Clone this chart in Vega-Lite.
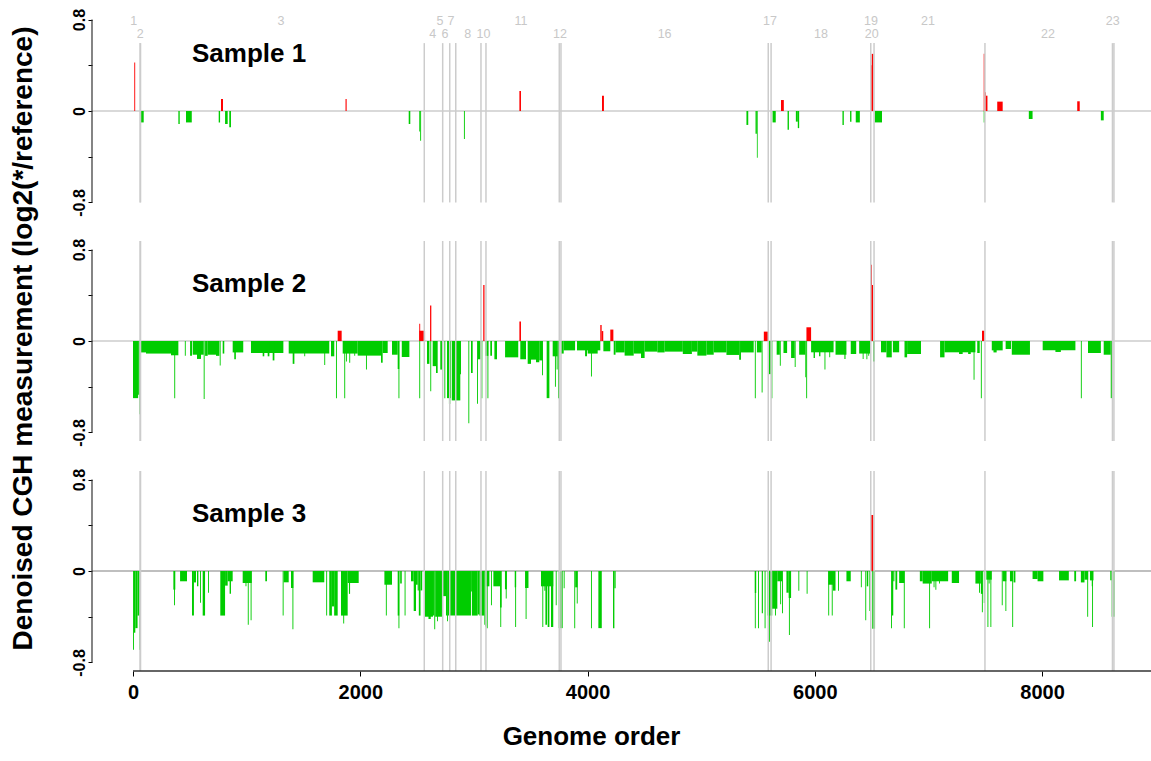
{
  "$schema": "https://vega.github.io/schema/vega-lite/v6.json",
  "padding": {"left": 8, "top": 8, "right": 0, "bottom": 5},
  "spacing": 30,
  "bounds": "flush",
  "config": {
    "view": {"stroke": null},
    "font": "Liberation Sans",
    "axis": {"grid": false, "domain": false, "tickColor": "#000", "labelColor": "#000", "titleColor": "#000", "labelFontWeight": "bold", "titleFontWeight": "bold", "labelFont": "Liberation Sans", "titleFont": "Liberation Sans", "labelOverlap": false, "labelBound": false}
  },
  "datasets": {
    "p1": [
      {"x":11,"x2":19,"v":0.425},{"x":64,"x2":94,"v":-0.10},{"x":399,"x2":411,"v":-0.114},{"x":466,"x2":517,"v":-0.10},
      {"x":754,"x2":766,"v":-0.10},{"x":774,"x2":792,"v":0.105},{"x":810,"x2":833,"v":-0.114},{"x":847,"x2":862,"v":-0.143},
      {"x":1870,"x2":1880,"v":0.105},{"x":2426,"x2":2440,"v":-0.114},{"x":2519,"x2":2527,"v":-0.18},{"x":2527,"x2":2535,"v":-0.26},
      {"x":2912,"x2":2920,"v":-0.245},{"x":3400,"x2":3414,"v":0.175},{"x":4127,"x2":4144,"v":0.134},{"x":5398,"x2":5414,"v":-0.122},
      {"x":5478,"x2":5490,"v":-0.2},{"x":5490,"x2":5497,"v":-0.41},{"x":5628,"x2":5656,"v":-0.10},{"x":5702,"x2":5727,"v":0.096},
      {"x":5760,"x2":5772,"v":-0.163},{"x":5833,"x2":5850,"v":-0.093},{"x":5850,"x2":5862,"v":-0.15},{"x":6243,"x2":6255,"v":-0.122},
      {"x":6310,"x2":6322,"v":-0.093},{"x":6360,"x2":6396,"v":-0.10},{"x":6492,"x2":6500,"v":0.40},{"x":6500,"x2":6515,"v":0.50},
      {"x":6527,"x2":6591,"v":-0.10},{"x":7486,"x2":7494,"v":0.5},{"x":7486,"x2":7494,"v":-0.1},{"x":7497,"x2":7505,"v":0.163},{"x":7505,"x2":7519,"v":0.134},
      {"x":7605,"x2":7653,"v":0.082},{"x":7883,"x2":7916,"v":-0.07},{"x":8309,"x2":8331,"v":0.085},{"x":8517,"x2":8542,"v":-0.082}
    ],
    "p2": [
      {"x":0,"x2":45,"v":-0.50},{"x":45,"x2":56,"v":-0.47},{"x":56,"x2":64,"v":-0.64},
      {"x":70,"x2":114,"v":-0.10},{"x":114,"x2":334,"v":-0.11},{"x":334,"x2":399,"v":-0.125},{"x":363,"x2":371,"v":-0.50},
      {"x":456,"x2":464,"v":-0.128},{"x":502,"x2":519,"v":-0.128},
      {"x":525,"x2":563,"v":-0.12},{"x":563,"x2":598,"v":-0.157},{"x":598,"x2":622,"v":-0.12},{"x":622,"x2":630,"v":-0.507},{"x":634,"x2":657,"v":-0.13},{"x":657,"x2":730,"v":-0.12},{"x":730,"x2":760,"v":-0.13},{"x":763,"x2":771,"v":-0.215},
      {"x":789,"x2":803,"v":-0.11},{"x":877,"x2":970,"v":-0.10},{"x":891,"x2":905,"v":-0.16},
      {"x":1038,"x2":1323,"v":-0.105},{"x":1141,"x2":1155,"v":-0.134},{"x":1185,"x2":1200,"v":-0.134},{"x":1229,"x2":1244,"v":-0.17},
      {"x":1370,"x2":1727,"v":-0.11},{"x":1405,"x2":1420,"v":-0.2},{"x":1507,"x2":1515,"v":-0.134},{"x":1683,"x2":1691,"v":-0.21},
      {"x":1742,"x2":1771,"v":-0.134},{"x":1786,"x2":1794,"v":-0.5},{"x":1801,"x2":1836,"v":0.09},
      {"x":1845,"x2":1977,"v":-0.11},{"x":1859,"x2":1867,"v":-0.5},{"x":1874,"x2":1882,"v":-0.18},{"x":1903,"x2":1911,"v":-0.19},{"x":1947,"x2":1955,"v":-0.128},
      {"x":1977,"x2":2182,"v":-0.128},{"x":2050,"x2":2058,"v":-0.25},{"x":2182,"x2":2197,"v":-0.19},{"x":2197,"x2":2241,"v":-0.105},
      {"x":2279,"x2":2329,"v":-0.12},{"x":2329,"x2":2343,"v":-0.245},{"x":2336,"x2":2344,"v":-0.5},{"x":2365,"x2":2432,"v":-0.14},
      {"x":2519,"x2":2570,"v":0.09},{"x":2519,"x2":2527,"v":0.15},{"x":2519,"x2":2527,"v":-0.5},
      {"x":2587,"x2":2608,"v":-0.2},{"x":2614,"x2":2625,"v":0.31},{"x":2616,"x2":2624,"v":-0.44},
      {"x":2637,"x2":2675,"v":-0.22},{"x":2666,"x2":2681,"v":-0.28},{"x":2704,"x2":2725,"v":-0.25},
      {"x":2740,"x2":2748,"v":-0.5},{"x":2763,"x2":2798,"v":-0.5},{"x":2780,"x2":2792,"v":-0.55},{"x":2805,"x2":2880,"v":-0.52},{"x":2875,"x2":2886,"v":-0.29},
      {"x":2951,"x2":2959,"v":-0.72},{"x":2974,"x2":2989,"v":-0.28},{"x":3027,"x2":3035,"v":-0.55},{"x":3035,"x2":3060,"v":-0.16},{"x":3066,"x2":3074,"v":-0.5},
      {"x":3082,"x2":3093,"v":0.49},{"x":3100,"x2":3127,"v":-0.13},{"x":3119,"x2":3127,"v":-0.5},{"x":3144,"x2":3159,"v":-0.13},{"x":3180,"x2":3203,"v":-0.16},
      {"x":3274,"x2":3390,"v":-0.143},{"x":3400,"x2":3414,"v":0.17},{"x":3408,"x2":3458,"v":-0.16},
      {"x":3473,"x2":3502,"v":-0.2},{"x":3502,"x2":3546,"v":-0.163},{"x":3546,"x2":3575,"v":-0.186},{"x":3575,"x2":3605,"v":-0.17},{"x":3599,"x2":3607,"v":-0.3},
      {"x":3640,"x2":3664,"v":-0.5},{"x":3693,"x2":3737,"v":-0.134},{"x":3713,"x2":3721,"v":-0.4},{"x":3728,"x2":3736,"v":-0.25},{"x":3740,"x2":3750,"v":-0.5},
      {"x":3766,"x2":3790,"v":-0.11},{"x":3790,"x2":3890,"v":-0.082},
      {"x":3907,"x2":4112,"v":-0.082},{"x":3978,"x2":3995,"v":-0.134},{"x":4001,"x2":4089,"v":-0.11},{"x":4030,"x2":4038,"v":-0.31},
      {"x":4112,"x2":4124,"v":0.14},{"x":4124,"x2":4138,"v":0.087},{"x":4139,"x2":4200,"v":-0.09},{"x":4200,"x2":4227,"v":0.1},
      {"x":4230,"x2":4246,"v":-0.12},{"x":4246,"x2":4326,"v":-0.1},{"x":4326,"x2":4406,"v":-0.128},{"x":4406,"x2":4470,"v":-0.11},{"x":4470,"x2":4502,"v":-0.149},
      {"x":4502,"x2":4614,"v":-0.093},{"x":4614,"x2":4678,"v":-0.1},{"x":4678,"x2":4838,"v":-0.093},{"x":4838,"x2":4918,"v":-0.114},{"x":4918,"x2":4966,"v":-0.093},
      {"x":4966,"x2":5046,"v":-0.128},{"x":5046,"x2":5110,"v":-0.12},{"x":5110,"x2":5222,"v":-0.1},{"x":5222,"x2":5334,"v":-0.122},{"x":5334,"x2":5350,"v":-0.163},
      {"x":5350,"x2":5462,"v":-0.1},{"x":5472,"x2":5480,"v":-0.5},{"x":5490,"x2":5532,"v":-0.1},{"x":5532,"x2":5540,"v":-0.45},
      {"x":5551,"x2":5590,"v":0.082},{"x":5596,"x2":5613,"v":-0.29},{"x":5618,"x2":5626,"v":-0.5},
      {"x":5664,"x2":5692,"v":-0.12},{"x":5692,"x2":5700,"v":-0.216},{"x":5724,"x2":5756,"v":-0.105},{"x":5791,"x2":5823,"v":-0.149},{"x":5823,"x2":5831,"v":-0.227},
      {"x":5862,"x2":5916,"v":-0.12},{"x":5916,"x2":5924,"v":-0.318},{"x":5924,"x2":5932,"v":-0.5},{"x":5926,"x2":5967,"v":0.12},
      {"x":5967,"x2":6165,"v":-0.099},{"x":5989,"x2":6001,"v":-0.149},{"x":6037,"x2":6049,"v":-0.134},{"x":6085,"x2":6093,"v":-0.25},{"x":6127,"x2":6135,"v":-0.143},
      {"x":6182,"x2":6278,"v":-0.12},{"x":6260,"x2":6270,"v":-0.157},{"x":6316,"x2":6364,"v":-0.114},
      {"x":6390,"x2":6488,"v":-0.11},{"x":6421,"x2":6429,"v":-0.157},{"x":6454,"x2":6462,"v":-0.16},{"x":6470,"x2":6478,"v":-0.13},
      {"x":6494,"x2":6502,"v":0.667},{"x":6502,"x2":6512,"v":0.49},{"x":6512,"x2":6527,"v":-0.18},
      {"x":6582,"x2":6630,"v":-0.099},{"x":6630,"x2":6677,"v":-0.143},{"x":6687,"x2":6742,"v":-0.099},{"x":6789,"x2":6812,"v":-0.143},{"x":6812,"x2":6934,"v":-0.114},
      {"x":7102,"x2":7141,"v":-0.143},{"x":7141,"x2":7413,"v":-0.099},{"x":7269,"x2":7301,"v":-0.114},{"x":7349,"x2":7372,"v":-0.114},{"x":7397,"x2":7405,"v":-0.34},
      {"x":7429,"x2":7451,"v":-0.105},{"x":7461,"x2":7469,"v":-0.5},{"x":7471,"x2":7493,"v":0.09},
      {"x":7557,"x2":7653,"v":-0.082},{"x":7572,"x2":7600,"v":-0.1},{"x":7679,"x2":7726,"v":-0.07},{"x":7733,"x2":7893,"v":-0.12},
      {"x":8005,"x2":8293,"v":-0.082},{"x":8117,"x2":8165,"v":-0.096},{"x":8341,"x2":8349,"v":-0.5},{"x":8404,"x2":8517,"v":-0.105},
      {"x":8542,"x2":8604,"v":-0.12},{"x":8604,"x2":8616,"v":-0.5}
    ],
    "p3": [
      {"x":0,"x2":8,"v":-0.69},{"x":8,"x2":20,"v":-0.54},{"x":20,"x2":40,"v":-0.5},{"x":40,"x2":56,"v":-0.39},{"x":56,"x2":64,"v":-0.69},
      {"x":355,"x2":372,"v":-0.163},{"x":361,"x2":369,"v":-0.3},{"x":414,"x2":475,"v":-0.09},{"x":519,"x2":536,"v":-0.39},{"x":536,"x2":554,"v":-0.1},
      {"x":563,"x2":575,"v":-0.134},{"x":590,"x2":598,"v":-0.277},{"x":613,"x2":634,"v":-0.39},{"x":660,"x2":668,"v":-0.19},
      {"x":768,"x2":810,"v":-0.39},{"x":810,"x2":833,"v":-0.128},{"x":833,"x2":877,"v":-0.09},{"x":850,"x2":862,"v":-0.2},
      {"x":965,"x2":1045,"v":-0.105},{"x":990,"x2":998,"v":-0.134},{"x":1010,"x2":1018,"v":-0.47},{"x":1035,"x2":1043,"v":-0.43},
      {"x":1164,"x2":1179,"v":-0.09},{"x":1317,"x2":1325,"v":-0.39},{"x":1325,"x2":1370,"v":-0.099},{"x":1390,"x2":1411,"v":-0.149},{"x":1403,"x2":1411,"v":-0.51},
      {"x":1581,"x2":1683,"v":-0.099},{"x":1700,"x2":1708,"v":-0.39},{"x":1727,"x2":1750,"v":-0.39},{"x":1750,"x2":1770,"v":-0.31},{"x":1770,"x2":1801,"v":-0.39},
      {"x":1830,"x2":1889,"v":-0.39},{"x":1850,"x2":1858,"v":-0.46},{"x":1889,"x2":1986,"v":-0.105},{"x":1900,"x2":1910,"v":-0.2},
      {"x":2212,"x2":2279,"v":-0.12},{"x":2225,"x2":2233,"v":-0.39},{"x":2329,"x2":2343,"v":-0.39},{"x":2336,"x2":2344,"v":-0.5},{"x":2351,"x2":2365,"v":-0.11},
      {"x":2390,"x2":2398,"v":-0.39},{"x":2446,"x2":2470,"v":-0.09},{"x":2470,"x2":2490,"v":-0.35},{"x":2490,"x2":2505,"v":-0.12},{"x":2505,"x2":2515,"v":-0.17},
      {"x":2515,"x2":2530,"v":-0.39},{"x":2530,"x2":2545,"v":-0.17},
      {"x":2563,"x2":2640,"v":-0.40},{"x":2600,"x2":2620,"v":-0.42},{"x":2640,"x2":2651,"v":-0.39},{"x":2651,"x2":2659,"v":-0.51},{"x":2659,"x2":2725,"v":-0.40},
      {"x":2675,"x2":2683,"v":-0.44},{"x":2725,"x2":2754,"v":-0.22},{"x":2754,"x2":2763,"v":-0.39},{"x":2763,"x2":2771,"v":-0.44},{"x":2771,"x2":2974,"v":-0.39},
      {"x":2974,"x2":2982,"v":-0.18},{"x":2982,"x2":3033,"v":-0.39},{"x":3033,"x2":3048,"v":-0.38},{"x":3048,"x2":3092,"v":-0.39},{"x":3092,"x2":3100,"v":-0.47},{"x":3100,"x2":3108,"v":-0.485},
      {"x":3108,"x2":3136,"v":-0.134},{"x":3113,"x2":3121,"v":-0.5},{"x":3150,"x2":3158,"v":-0.3},{"x":3171,"x2":3230,"v":-0.134},{"x":3230,"x2":3244,"v":-0.32},{"x":3232,"x2":3240,"v":-0.49},
      {"x":3273,"x2":3290,"v":-0.16},{"x":3280,"x2":3288,"v":-0.24},{"x":3359,"x2":3371,"v":-0.143},{"x":3363,"x2":3371,"v":-0.49},{"x":3450,"x2":3480,"v":-0.149},{"x":3455,"x2":3463,"v":-0.42},
      {"x":3590,"x2":3698,"v":-0.134},{"x":3602,"x2":3610,"v":-0.49},{"x":3620,"x2":3629,"v":-0.172},{"x":3629,"x2":3643,"v":-0.47},{"x":3649,"x2":3664,"v":-0.49},{"x":3678,"x2":3698,"v":-0.49},
      {"x":3720,"x2":3728,"v":-0.3},{"x":3746,"x2":3781,"v":-0.5},{"x":3790,"x2":3798,"v":-0.15},
      {"x":3883,"x2":3891,"v":-0.5},{"x":3891,"x2":3912,"v":-0.143},{"x":3905,"x2":3913,"v":-0.285},{"x":4030,"x2":4038,"v":-0.5},{"x":4095,"x2":4125,"v":-0.5},
      {"x":4224,"x2":4236,"v":-0.5},{"x":4236,"x2":4247,"v":-0.15},
      {"x":5472,"x2":5484,"v":-0.192},{"x":5472,"x2":5480,"v":-0.5},{"x":5500,"x2":5508,"v":-0.5},{"x":5533,"x2":5543,"v":-0.37},{"x":5558,"x2":5566,"v":-0.5},
      {"x":5584,"x2":5625,"v":-0.39},{"x":5596,"x2":5604,"v":-0.62},{"x":5625,"x2":5670,"v":-0.33},{"x":5650,"x2":5658,"v":-0.39},
      {"x":5670,"x2":5711,"v":-0.09},{"x":5695,"x2":5703,"v":-0.29},{"x":5711,"x2":5719,"v":-0.37},
      {"x":5750,"x2":5770,"v":-0.19},{"x":5770,"x2":5791,"v":-0.236},{"x":5772,"x2":5780,"v":-0.56},{"x":5855,"x2":5863,"v":-0.172},{"x":5928,"x2":5936,"v":-0.2},
      {"x":6118,"x2":6160,"v":-0.12},{"x":6118,"x2":6126,"v":-0.39},{"x":6149,"x2":6157,"v":-0.39},{"x":6160,"x2":6182,"v":-0.172},{"x":6204,"x2":6212,"v":-0.172},
      {"x":6278,"x2":6316,"v":-0.09},{"x":6405,"x2":6413,"v":-0.143},{"x":6444,"x2":6452,"v":-0.43},{"x":6457,"x2":6470,"v":-0.134},
      {"x":6480,"x2":6491,"v":-0.35},{"x":6495,"x2":6515,"v":0.49},{"x":6505,"x2":6530,"v":-0.505},
      {"x":6671,"x2":6679,"v":-0.5},{"x":6679,"x2":6690,"v":-0.39},{"x":6690,"x2":6700,"v":-0.09},{"x":6709,"x2":6725,"v":-0.163},{"x":6742,"x2":6789,"v":-0.105},{"x":6783,"x2":6791,"v":-0.5},
      {"x":6924,"x2":6949,"v":-0.09},{"x":6949,"x2":7029,"v":-0.11},{"x":7006,"x2":7014,"v":-0.5},{"x":7029,"x2":7173,"v":-0.09},{"x":7045,"x2":7053,"v":-0.143},{"x":7061,"x2":7069,"v":-0.163},{"x":7093,"x2":7101,"v":-0.11},
      {"x":7205,"x2":7269,"v":-0.105},{"x":7413,"x2":7461,"v":-0.11},{"x":7445,"x2":7453,"v":-0.19},{"x":7461,"x2":7477,"v":-0.2},{"x":7470,"x2":7478,"v":-0.36},{"x":7487,"x2":7495,"v":-0.28},
      {"x":7509,"x2":7557,"v":-0.076},{"x":7519,"x2":7527,"v":-0.49},{"x":7530,"x2":7538,"v":-0.11},{"x":7545,"x2":7553,"v":-0.49},
      {"x":7645,"x2":7653,"v":-0.3},{"x":7653,"x2":7685,"v":-0.09},{"x":7677,"x2":7685,"v":-0.35},{"x":7717,"x2":7743,"v":-0.09},{"x":7737,"x2":7745,"v":-0.49},{"x":7749,"x2":7765,"v":-0.1},
      {"x":7916,"x2":7960,"v":-0.07},{"x":7960,"x2":8011,"v":-0.09},{"x":8149,"x2":8235,"v":-0.082},{"x":8283,"x2":8299,"v":-0.09},
      {"x":8341,"x2":8373,"v":-0.1},{"x":8373,"x2":8405,"v":-0.076},{"x":8397,"x2":8405,"v":-0.4},{"x":8421,"x2":8452,"v":-0.082},{"x":8437,"x2":8445,"v":-0.134},{"x":8440,"x2":8448,"v":-0.49},
      {"x":8600,"x2":8612,"v":-0.082},{"x":8612,"x2":8638,"v":-0.4}
    ],
    "bounds": [
      {"x":62},{"x":66},{"x":2563},{"x":2725},{"x":2787},{"x":2840},{"x":3062},{"x":3106},{"x":3751},{"x":3766},
      {"x":5590},{"x":5615},{"x":6492},{"x":6521},{"x":7497},{"x":8619},{"x":8632}
    ],
    "chroms": [
      {"c":"1","x":6,"r":1},{"c":"2","x":64,"r":2},{"c":"3","x":1302,"r":1},{"c":"4","x":2637,"r":2},{"c":"5","x":2702,"r":1},
      {"c":"6","x":2746,"r":2},{"c":"7","x":2798,"r":1},{"c":"8","x":2945,"r":2},{"c":"10","x":3084,"r":2},{"c":"11","x":3414,"r":1},
      {"c":"12","x":3758,"r":2},{"c":"16","x":4678,"r":2},{"c":"17","x":5606,"r":1},{"c":"18","x":6054,"r":2},{"c":"19","x":6494,"r":1},
      {"c":"20","x":6501,"r":2},{"c":"21","x":6996,"r":1},{"c":"22","x":8052,"r":2},{"c":"23","x":8622,"r":1}
    ]
  },
  "vconcat": [
    {
      "width": 1060, "height": 200,
      "layer": [
        {"data": {"values": [{}]}, "mark": {"type": "rule", "color": "#b4b4b4", "strokeWidth": 1.2},
         "encoding": {"y": {"datum": 0, "type": "quantitative", "scale": {"domain": [-0.875, 0.875], "nice": false, "zero": false}}}},
        {"data": {"name": "p1"}, "mark": {"type": "rect"},
         "encoding": {
           "x": {"field": "x", "type": "quantitative", "scale": {"domain": [-361, 8967], "nice": false, "zero": false}, "axis": null},
           "x2": {"field": "x2"},
           "y": {"field": "v", "type": "quantitative", "scale": {"domain": [-0.875, 0.875], "nice": false, "zero": false},
                 "axis": {"values": [-0.8, -0.4, 0, 0.4, 0.8], "labelExpr": "datum.value == 0.8 ? '0.8' : datum.value == -0.8 ? '-0.8' : datum.value == 0 ? '0' : ''", "labelAngle": -90, "labelAlign": "center", "labelBaseline": "bottom", "labelFontSize": 16, "tickSize": 4, "labelPadding": 1, "title": null}},
           "y2": {"datum": 0},
           "color": {"field": "v", "type": "quantitative", "scale": {"type": "threshold", "domain": [0], "range": ["#00cc00", "#ff0000"]}, "legend": null}
         }},
        {"data": {"name": "bounds"}, "mark": {"type": "rule", "color": "#cccccc", "strokeWidth": 1.5},
         "encoding": {
           "x": {"field": "x", "type": "quantitative", "scale": {"domain": [-361, 8967], "nice": false, "zero": false}, "axis": null},
           "y": {"datum": -0.8, "type": "quantitative", "scale": {"domain": [-0.875, 0.875], "nice": false, "zero": false}},
           "y2": {"datum": 0.594}
         }},
        {"data": {"name": "chroms"}, "transform": [{"filter": "datum.r == 1"}],
         "mark": {"type": "text", "fontSize": 12.5, "color": "#c8c8c8", "align": "center", "baseline": "middle"},
         "encoding": {
           "x": {"field": "x", "type": "quantitative", "scale": {"domain": [-361, 8967], "nice": false, "zero": false}, "axis": null},
           "y": {"datum": 0.79, "type": "quantitative", "scale": {"domain": [-0.875, 0.875], "nice": false, "zero": false}},
           "text": {"field": "c"}
         }},
        {"data": {"name": "chroms"}, "transform": [{"filter": "datum.r == 2"}],
         "mark": {"type": "text", "fontSize": 12.5, "color": "#c8c8c8", "align": "center", "baseline": "middle"},
         "encoding": {
           "x": {"field": "x", "type": "quantitative", "scale": {"domain": [-361, 8967], "nice": false, "zero": false}, "axis": null},
           "y": {"datum": 0.675, "type": "quantitative", "scale": {"domain": [-0.875, 0.875], "nice": false, "zero": false}},
           "text": {"field": "c"}
         }},
        {"data": {"values": [{}]}, "mark": {"type": "text", "fontSize": 26, "fontWeight": "bold", "align": "left", "baseline": "middle", "color": "#000"},
         "encoding": {
           "x": {"datum": 519, "type": "quantitative", "scale": {"domain": [-361, 8967], "nice": false, "zero": false}, "axis": null},
           "y": {"datum": 0.5, "type": "quantitative", "scale": {"domain": [-0.875, 0.875], "nice": false, "zero": false}},
           "text": {"value": "Sample 1"}
         }},
        {"data": {"values": [{}]}, "mark": {"type": "rule", "color": "#333333", "strokeWidth": 1.2},
         "encoding": {
           "x": {"datum": -361, "type": "quantitative", "scale": {"domain": [-361, 8967], "nice": false, "zero": false}, "axis": null},
           "y": {"datum": -0.8, "type": "quantitative", "scale": {"domain": [-0.875, 0.875], "nice": false, "zero": false}},
           "y2": {"datum": 0.8}
         }}
      ]
    },
    {
      "width": 1060, "height": 200,
      "layer": [
        {"data": {"values": [{}]}, "mark": {"type": "rule", "color": "#b4b4b4", "strokeWidth": 1.2},
         "encoding": {"y": {"datum": 0, "type": "quantitative", "scale": {"domain": [-0.875, 0.875], "nice": false, "zero": false}}}},
        {"data": {"name": "p2"}, "mark": {"type": "rect"},
         "encoding": {
           "x": {"field": "x", "type": "quantitative", "scale": {"domain": [-361, 8967], "nice": false, "zero": false}, "axis": null},
           "x2": {"field": "x2"},
           "y": {"field": "v", "type": "quantitative", "scale": {"domain": [-0.875, 0.875], "nice": false, "zero": false},
                 "axis": {"values": [-0.8, -0.4, 0, 0.4, 0.8], "labelExpr": "datum.value == 0.8 ? '0.8' : datum.value == -0.8 ? '-0.8' : datum.value == 0 ? '0' : ''", "labelAngle": -90, "labelAlign": "center", "labelBaseline": "bottom", "labelFontSize": 16, "tickSize": 4, "labelPadding": 1,
                          "title": "Denoised CGH measurement (log2(*/reference)", "titleFontSize": 28, "titleAngle": -90, "titleX": -69, "titleY": 97, "titleAlign": "center", "titleBaseline": "middle"}},
           "y2": {"datum": 0},
           "color": {"field": "v", "type": "quantitative", "scale": {"type": "threshold", "domain": [0], "range": ["#00cc00", "#ff0000"]}, "legend": null}
         }},
        {"data": {"name": "bounds"}, "mark": {"type": "rule", "color": "#cccccc", "strokeWidth": 1.5},
         "encoding": {
           "x": {"field": "x", "type": "quantitative", "scale": {"domain": [-361, 8967], "nice": false, "zero": false}, "axis": null},
           "y": {"datum": -0.875, "type": "quantitative", "scale": {"domain": [-0.875, 0.875], "nice": false, "zero": false}},
           "y2": {"datum": 0.875}
         }},
        {"data": {"values": [{}]}, "mark": {"type": "text", "fontSize": 26, "fontWeight": "bold", "align": "left", "baseline": "middle", "color": "#000"},
         "encoding": {
           "x": {"datum": 519, "type": "quantitative", "scale": {"domain": [-361, 8967], "nice": false, "zero": false}, "axis": null},
           "y": {"datum": 0.5, "type": "quantitative", "scale": {"domain": [-0.875, 0.875], "nice": false, "zero": false}},
           "text": {"value": "Sample 2"}
         }},
        {"data": {"values": [{}]}, "mark": {"type": "rule", "color": "#333333", "strokeWidth": 1.2},
         "encoding": {
           "x": {"datum": -361, "type": "quantitative", "scale": {"domain": [-361, 8967], "nice": false, "zero": false}, "axis": null},
           "y": {"datum": -0.8, "type": "quantitative", "scale": {"domain": [-0.875, 0.875], "nice": false, "zero": false}},
           "y2": {"datum": 0.8}
         }}
      ]
    },
    {
      "width": 1060, "height": 200,
      "layer": [
        {"data": {"values": [{}]}, "mark": {"type": "rule", "color": "#808080", "strokeWidth": 1.2},
         "encoding": {"y": {"datum": 0, "type": "quantitative", "scale": {"domain": [-0.875, 0.875], "nice": false, "zero": false}}}},
        {"data": {"name": "p3"}, "mark": {"type": "rect"},
         "encoding": {
           "x": {"field": "x", "type": "quantitative", "scale": {"domain": [-361, 8967], "nice": false, "zero": false},
                 "axis": {"values": [0, 2000, 4000, 6000, 8000], "format": "d", "labelFontSize": 20, "tickSize": 5, "labelPadding": 6, "title": "Genome order", "titleFontSize": 26, "titlePadding": 21, "titleX": 499, "titleAlign": "center"}},
           "x2": {"field": "x2"},
           "y": {"field": "v", "type": "quantitative", "scale": {"domain": [-0.875, 0.875], "nice": false, "zero": false},
                 "axis": {"values": [-0.8, -0.4, 0, 0.4, 0.8], "labelExpr": "datum.value == 0.8 ? '0.8' : datum.value == -0.8 ? '-0.8' : datum.value == 0 ? '0' : ''", "labelAngle": -90, "labelAlign": "center", "labelBaseline": "bottom", "labelFontSize": 16, "tickSize": 4, "labelPadding": 1, "title": null}},
           "y2": {"datum": 0},
           "color": {"field": "v", "type": "quantitative", "scale": {"type": "threshold", "domain": [0], "range": ["#00cc00", "#ff0000"]}, "legend": null}
         }},
        {"data": {"name": "bounds"}, "mark": {"type": "rule", "color": "#cccccc", "strokeWidth": 1.5},
         "encoding": {
           "x": {"field": "x", "type": "quantitative", "scale": {"domain": [-361, 8967], "nice": false, "zero": false}},
           "y": {"datum": -0.875, "type": "quantitative", "scale": {"domain": [-0.875, 0.875], "nice": false, "zero": false}},
           "y2": {"datum": 0.875}
         }},
        {"data": {"values": [{}]}, "mark": {"type": "text", "fontSize": 26, "fontWeight": "bold", "align": "left", "baseline": "middle", "color": "#000"},
         "encoding": {
           "x": {"datum": 519, "type": "quantitative", "scale": {"domain": [-361, 8967], "nice": false, "zero": false}},
           "y": {"datum": 0.5, "type": "quantitative", "scale": {"domain": [-0.875, 0.875], "nice": false, "zero": false}},
           "text": {"value": "Sample 3"}
         }},
        {"data": {"values": [{}]}, "mark": {"type": "rule", "color": "#333333", "strokeWidth": 1.2},
         "encoding": {
           "x": {"datum": -361, "type": "quantitative", "scale": {"domain": [-361, 8967], "nice": false, "zero": false}},
           "y": {"datum": -0.8, "type": "quantitative", "scale": {"domain": [-0.875, 0.875], "nice": false, "zero": false}},
           "y2": {"datum": 0.8}
         }},
        {"data": {"values": [{}]}, "mark": {"type": "rule", "color": "#333333", "strokeWidth": 1.5},
         "encoding": {
           "x": {"datum": 0, "type": "quantitative", "scale": {"domain": [-361, 8967], "nice": false, "zero": false}},
           "x2": {"datum": 8967},
           "y": {"datum": -0.875, "type": "quantitative", "scale": {"domain": [-0.875, 0.875], "nice": false, "zero": false}}
         }}
      ]
    }
  ]
}
